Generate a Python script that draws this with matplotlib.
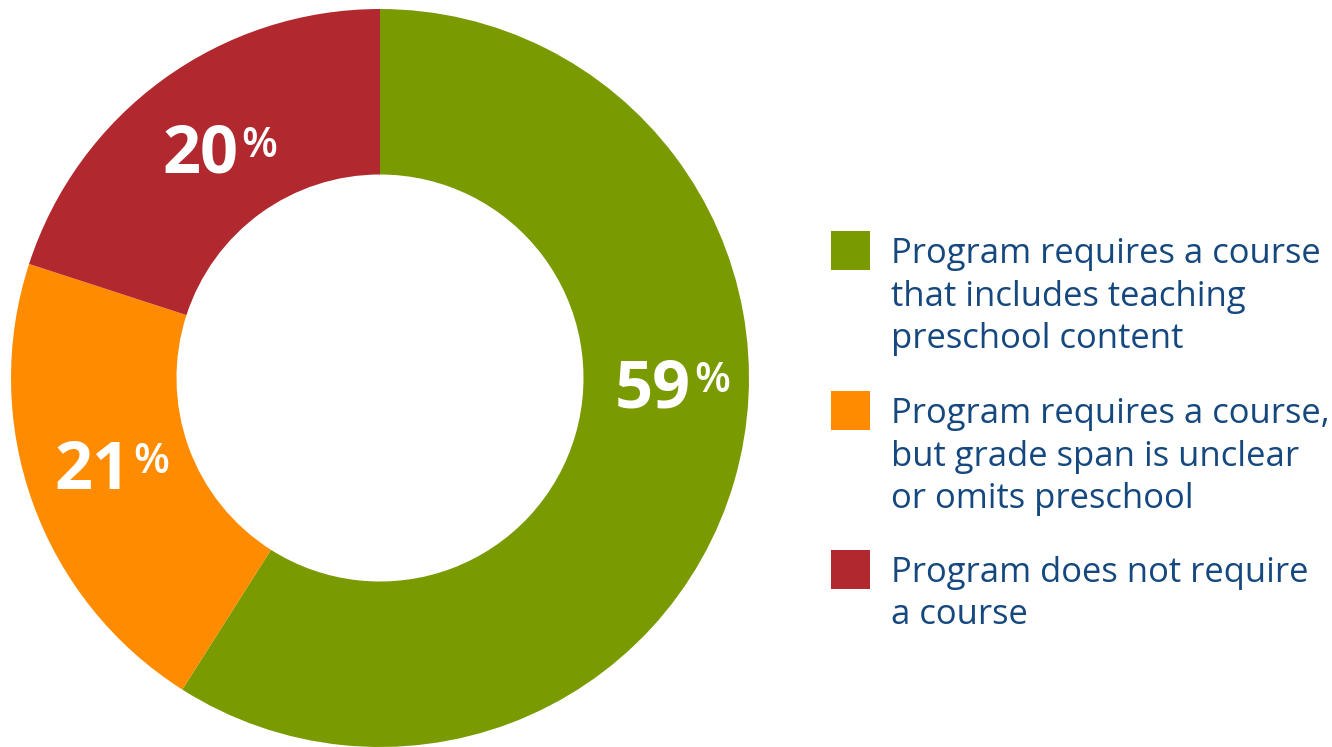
import matplotlib.pyplot as plt
from matplotlib.patches import Rectangle
import numpy as np

W, H = 1332, 747

categories = [
    "Program requires a course\nthat includes teaching\npreschool content",
    "Program requires a course,\nbut grade span is unclear\nor omits preschool",
    "Program does not require\na course",
]
shares = [59, 21, 20]
colors = ["#7A9A01", "#FF8C00", "#B2282F"]
TEXT_BLUE = "#15487F"

# donut geometry in pixels (top-left origin)
CX, CY, R_OUT, R_IN = 380, 378, 369, 203.5
# label placement tweaks (degrees clockwise added to mid angle, radius fraction)
label_shift = [-15, 3, -2]
label_r = [0.74, 0.815, 0.79]
HALF_DIGIT = 23.8 / R_OUT

fig = plt.figure(figsize=(W / 100, H / 100), dpi=100)
ax = fig.add_axes([(CX - R_OUT) / W, (H - CY - R_OUT) / H, 2 * R_OUT / W, 2 * R_OUT / H])

wedges, _ = ax.pie(shares, colors=colors, startangle=90, counterclock=False,
                   radius=1, wedgeprops=dict(width=(R_OUT - R_IN) / R_OUT, linewidth=0))
ax.set_xlim(-1, 1)
ax.set_ylim(-1, 1)
ax.set_aspect("equal")
ax.axis("off")

# percentage labels: big bold number, small raised % sign
cum = np.cumsum([0] + shares[:-1])
for i, v in enumerate(shares):
    mid = (cum[i] + v / 2) / sum(shares) * 360 + label_shift[i]
    th = np.deg2rad(mid)
    x, y = label_r[i] * np.sin(th), label_r[i] * np.cos(th)
    t = ax.text(x, y - HALF_DIGIT, f"{v}", ha="center", va="baseline", color="white",
                fontsize=48, fontweight="bold", family="Open Sans")
    ax.annotate("%", xy=(1, 1), xycoords=t, xytext=(2, -2.5), textcoords="offset points",
                ha="left", va="top", color="white", fontsize=30, fontweight="semibold",
                family="Open Sans")

# legend drawn by hand so the swatch lines up with the first text line
LEG_X, SW, TEXT_X, LINE_H = 831, 39, 891, 42.5
first_base = [263, 423, 582]
for i, lab in enumerate(categories):
    b = first_base[i]
    fig.patches.append(Rectangle((LEG_X / W, (H - (b - 32) - SW) / H), SW / W, SW / H,
                                 transform=fig.transFigure, color=colors[i], linewidth=0))
    for k, line in enumerate(lab.split("\n")):
        fig.text(TEXT_X / W, (H - b - k * LINE_H) / H, line, ha="left", va="baseline",
                 color=TEXT_BLUE, fontsize=24.9, family="Open Sans")

fig.savefig("out.png", dpi=100)
